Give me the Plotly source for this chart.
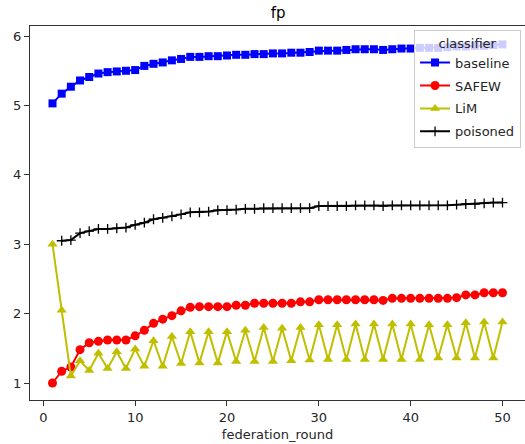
import plotly.graph_objects as go

rounds = list(range(1, 51))

baseline = [5.03, 5.17, 5.27, 5.36, 5.41, 5.46, 5.48, 5.49, 5.50, 5.51,
            5.57, 5.60, 5.62, 5.65, 5.67, 5.70, 5.70, 5.71, 5.71, 5.72,
            5.73, 5.73, 5.74, 5.74, 5.75, 5.75, 5.76, 5.76, 5.77, 5.79,
            5.79, 5.79, 5.80, 5.81, 5.81, 5.81, 5.80, 5.81, 5.82, 5.82,
            5.83, 5.83, 5.83, 5.84, 5.85, 5.85, 5.86, 5.86, 5.87, 5.88]

safew = [1.00, 1.17, 1.23, 1.48, 1.58, 1.60, 1.62, 1.62, 1.62, 1.68,
         1.76, 1.86, 1.92, 1.97, 2.04, 2.09, 2.10, 2.10, 2.10, 2.10,
         2.12, 2.12, 2.15, 2.15, 2.15, 2.15, 2.15, 2.17, 2.17, 2.20,
         2.20, 2.20, 2.20, 2.20, 2.20, 2.20, 2.19, 2.22, 2.22, 2.22,
         2.22, 2.22, 2.22, 2.22, 2.23, 2.27, 2.27, 2.30, 2.30, 2.30]

lim = [3.00, 2.05, 1.10, 1.32, 1.18, 1.43, 1.21, 1.45, 1.21, 1.49,
       1.24, 1.61, 1.24, 1.67, 1.28, 1.74, 1.29, 1.74, 1.29, 1.74,
       1.31, 1.76, 1.31, 1.80, 1.31, 1.79, 1.32, 1.80, 1.33, 1.84,
       1.34, 1.84, 1.34, 1.85, 1.34, 1.85, 1.34, 1.85, 1.34, 1.85,
       1.34, 1.84, 1.36, 1.84, 1.36, 1.87, 1.36, 1.88, 1.36, 1.88]

poisoned_rounds = list(range(2, 51))
poisoned = [3.05, 3.06, 3.16, 3.19, 3.22, 3.22, 3.23, 3.24, 3.28,
            3.31, 3.36, 3.38, 3.40, 3.43, 3.46, 3.46, 3.47, 3.49, 3.49,
            3.50, 3.51, 3.51, 3.52, 3.52, 3.52, 3.52, 3.52, 3.52, 3.55,
            3.55, 3.55, 3.55, 3.56, 3.56, 3.56, 3.55, 3.56, 3.56, 3.56,
            3.56, 3.56, 3.56, 3.56, 3.57, 3.58, 3.58, 3.59, 3.60, 3.60]

x_ticks = [0, 10, 20, 30, 40, 50]
y_ticks = [1, 2, 3, 4, 5, 6]

FONT = "DejaVu Sans"

fig = go.Figure()
fig.add_trace(go.Scatter(x=rounds, y=baseline, name="baseline", mode="lines+markers",
                         legendgroup="a",
                         line=dict(color="#0000ff", width=2),
                         marker=dict(symbol="square", size=8, color="#0000ff")))
fig.add_trace(go.Scatter(x=rounds, y=safew, name="SAFEW", mode="lines+markers",
                         legendgroup="b",
                         line=dict(color="#ff0000", width=2),
                         marker=dict(symbol="circle", size=9, color="#ff0000")))
fig.add_trace(go.Scatter(x=rounds, y=lim, name="LiM", mode="lines+markers",
                         legendgroup="c",
                         line=dict(color="#bfbf00", width=2),
                         marker=dict(symbol="triangle-up", size=9, color="#bfbf00")))
fig.add_trace(go.Scatter(x=poisoned_rounds, y=poisoned, name="poisoned", mode="lines+markers",
                         legendgroup="d",
                         line=dict(color="#000000", width=2),
                         marker=dict(symbol="cross-thin", size=7, color="#000000",
                                     line=dict(color="#000000", width=1.3))))

fig.update_layout(
    width=525, height=444,
    margin=dict(l=30, r=0, t=26, b=44),
    paper_bgcolor="white", plot_bgcolor="white",
    font=dict(family=FONT, size=13, color="#262626"),
    title=dict(text="fp", x=0.53, xanchor="center", y=0.972, yanchor="middle",
               font=dict(family=FONT, size=15, color="black")),
    legend=dict(
        title=dict(text="classifier", side="top center", font=dict(size=13)),
        x=0.992, xanchor="right", y=0.99, yanchor="top",
        bgcolor="rgba(255,255,255,0.8)", bordercolor="#cccccc", borderwidth=1,
        font=dict(size=13), traceorder="grouped", tracegroupgap=3, itemwidth=30,
    ),
    showlegend=True,
)
fig.update_xaxes(range=[-1.45, 52.45], tickvals=x_ticks, ticks="outside", ticklen=5,
                 tickcolor="#333", showline=True, linecolor="#333", linewidth=1,
                 mirror=True, showgrid=False, zeroline=False,
                 title=dict(text="federation_round", standoff=6, font=dict(size=13)))
fig.update_yaxes(range=[0.755, 6.145], tickvals=y_ticks, ticks="outside", ticklen=5,
                 tickcolor="#333", showline=True, linecolor="#333", linewidth=1,
                 mirror=False, showgrid=False, zeroline=False, automargin=False)

fig.write_html("out.html", config={"displayModeBar": False},
               post_script="document.body.style.margin='0';document.body.style.overflow='hidden';")
